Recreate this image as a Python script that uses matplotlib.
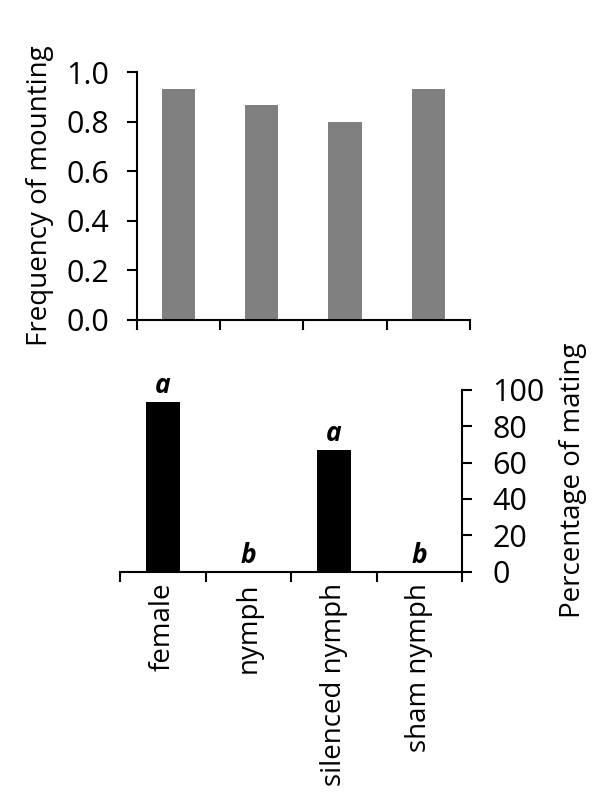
import matplotlib
matplotlib.use('Agg')
import matplotlib.pyplot as plt
import numpy as np

plt.rcParams['font.family'] = ['Open Sans', 'DejaVu Sans']

# Данные
categories = ['female', 'nymph', 'silenced nymph', 'sham nymph']
mounting_freq = [0.933, 0.867, 0.800, 0.933]
mating_pct = [93.3, 0.0, 66.7, 0.0]
letters = ['a', 'b', 'a', 'b']

x = np.arange(len(categories))
edges = np.arange(len(categories) + 1) - 0.5

fig = plt.figure(figsize=(6, 8.1), dpi=100)

# Верхний график: частота
ax1 = fig.add_axes([0.228, 0.605, 0.555, 0.306])
ax1.bar(x, mounting_freq, width=0.4, color='#808080')
ax1.set_xlim(-0.5, 3.5)
ax1.set_ylim(0, 1.0)
ax1.set_yticks(np.arange(0, 1.01, 0.2))
ax1.set_yticklabels([f'{v:.1f}' for v in np.arange(0, 1.01, 0.2)])
ax1.set_xticks(edges)
ax1.set_xticklabels([])
ax1.set_ylabel('Frequency of mounting', fontsize=20, labelpad=9)
for s in ['top', 'right']:
    ax1.spines[s].set_visible(False)
for s in ['left', 'bottom']:
    ax1.spines[s].set_linewidth(1.5)
ax1.tick_params(axis='both', direction='out', length=7, width=1.5, labelsize=22)
ax1.tick_params(axis='y', pad=13)

# Нижний график: процент спаривания
ax2 = fig.add_axes([0.2, 0.294, 0.57, 0.225])
ax2.bar(x, mating_pct, width=0.4, color='black')
for xi, v, t in zip(x, mating_pct, letters):
    ax2.text(xi, v + 5, t, ha='center', va='baseline', fontsize=19,
             fontweight='bold', fontstyle='italic')
ax2.set_xlim(-0.5, 3.5)
ax2.set_ylim(0, 100)
ax2.set_yticks(np.arange(0, 101, 20))
ax2.yaxis.tick_right()
ax2.yaxis.set_label_position('right')
ax2.set_ylabel('Percentage of mating', fontsize=20, labelpad=10)
ax2.set_xticks(edges, minor=False)
ax2.set_xticklabels([])
ax2.set_xticks(x, minor=True)
ax2.set_xticklabels(categories, minor=True, rotation=90, fontsize=20, va='top')
ax2.tick_params(axis='x', which='minor', length=0, pad=8)
for s in ['top', 'left']:
    ax2.spines[s].set_visible(False)
for s in ['right', 'bottom']:
    ax2.spines[s].set_linewidth(1.5)
ax2.tick_params(axis='both', which='major', direction='out', length=7, width=1.5, labelsize=22)
ax2.tick_params(axis='y', which='major', pad=15)

plt.savefig('out.png', dpi=100)
plt.close()
